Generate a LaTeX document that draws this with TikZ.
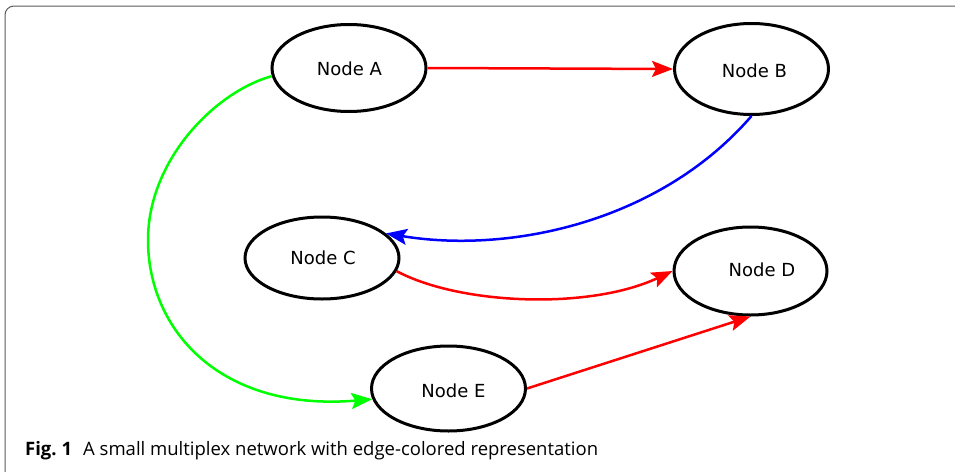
\documentclass[tikz,border=0pt]{standalone}
\usepackage{fontspec}
\setmainfont{DejaVu Sans}
\newfontfamily\capfont{Open Sans}
\usetikzlibrary{shapes.geometric,arrows.meta}

\definecolor{edgered}{RGB}{255,0,0}
\definecolor{edgeblue}{RGB}{0,0,255}
\definecolor{edgegreen}{RGB}{0,255,0}
\definecolor{framegray}{RGB}{90,90,90}

\tikzset{
  netnode/.style={ellipse, draw=black, line width=3pt, inner sep=0pt},
  netlabel/.style={inner sep=0pt, font=\fontsize{18}{20}\selectfont},
  netedge/.style={line width=2.5pt,
    -{Stealth[length=21pt, width=16pt, inset=4pt]}},
  frameline/.style={draw=framegray, line width=1pt, rounded corners=9pt},
}

\begin{document}
\begin{tikzpicture}[x=1pt, y=-1pt]
  \useasboundingbox (0,0) rectangle (955,471);

  % open panel frame (left and top sides)
  \draw[frameline] (5,475) -- (5,6) -- (960,6);

  % network nodes
  \node[netnode, minimum width=154pt, minimum height=87pt] (A) at (349,68) {};
  \node[netnode, minimum width=154pt, minimum height=91pt] (B) at (751.5,69) {};
  \node[netnode, minimum width=154pt, minimum height=82pt] (C) at (322,258) {};
  \node[netnode, minimum width=153pt, minimum height=88pt] (D) at (750.5,271) {};
  \node[netnode, minimum width=154pt, minimum height=85pt] (E) at (448.5,388.5) {};

  \node[netlabel] (A-t) at (349.5,69) {Node A};
  \node[netlabel] (B-t) at (754.5,71) {Node B};
  \node[netlabel] (C-t) at (323,258) {Node C};
  \node[netlabel] (D-t) at (762,270) {Node D};
  \node[netlabel] (E-t) at (453.5,391) {Node E};

  % edges, coloured by layer
  \draw[netedge, edgered] (A.east) -- (B.west);
  \draw[netedge, edgeblue] (B.south) .. controls (660,222) and (510,254) .. (C.21);
  \draw[netedge, edgered] (C.-10) .. controls (460,305) and (590,310) .. (D.west);
  \draw[netedge, edgered] (E.east) -- (D.south);
  \draw[netedge, edgegreen] (A.186) .. controls (215,92) and (148,160) .. (148,240)
        .. controls (148,330) and (220,412) .. (E.188);

  % caption
  \node[anchor=base west, inner sep=0pt, font=\capfont\fontsize{18.5}{20}\selectfont] (cap) at (25,455)
    {\textbf{Fig.~1}\hspace{0.6em}A small multiplex network with edge-colored representation};
\end{tikzpicture}
\end{document}
